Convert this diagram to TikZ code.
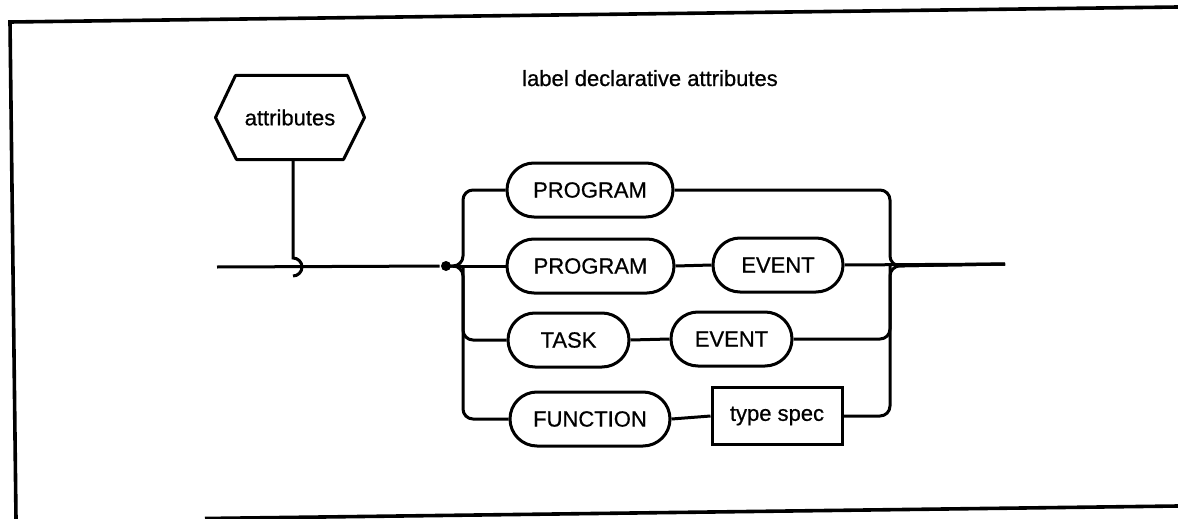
\documentclass[tikz,border=0pt]{standalone}
\usepackage{fontspec}
\setmainfont{Liberation Sans}
\newfontfamily\dfont{Liberation Sans}[FakeBold=0.7]
\begin{document}
\begin{tikzpicture}[x=1pt,y=-1pt,line width=3pt,
  txt/.style={font=\dfont\fontsize{22}{24}\selectfont},
  pill/.style={draw,txt,rounded corners=27pt,minimum height=54pt,inner sep=0pt},
  boxnode/.style={draw,txt,minimum height=57pt,inner sep=0pt},
  conn/.style={rounded corners=10pt},
  frameline/.style={line width=3.6pt}]
\useasboundingbox (0,0) rectangle (1178,519);
% frame
\draw[frameline] (16,519) -- (10,22) -- (1178,7);
\draw[frameline] (205,518.5) -- (1178,506);
% title
\node[txt,anchor=base] (title) at (650,86) {label declarative attributes};
% hexagon
\node[txt,minimum width=146pt,minimum height=81pt,inner sep=0pt] (hex) at (290,117.5) {attributes};
\draw[line join=round] (hex.west) -- ([xshift=20pt]hex.north west) -- ([xshift=-17pt]hex.north east)
  -- (hex.east) -- ([xshift=-21pt]hex.south east) -- ([xshift=21pt]hex.south west) -- cycle;
% main line
\coordinate (start) at (217,267);
\coordinate (hk) at (293,267);
\node[circle,fill,inner sep=0pt,minimum size=10pt] (dot) at (446,266) {};
\draw (start) -- (dot);
\draw (hk |- hex.south) -- ([yshift=9pt]hk) arc[start angle=90,end angle=-90,radius=9pt];
% junctions
\coordinate (L) at (463,266);
\coordinate (R) at (890,266);
\coordinate (end) at (1005,264);
% nodes
\node[pill,minimum width=166pt] (p1) at (590,190) {PROGRAM};
\node[pill,minimum width=167pt] (p2) at (590.5,266) {PROGRAM};
\node[pill,minimum width=130pt] (e2) at (778,265) {EVENT};
\node[pill,minimum width=121pt] (t3) at (568.5,340) {TASK};
\node[pill,minimum width=121pt] (e3) at (731.5,339) {EVENT};
\node[pill,minimum width=160pt] (fn) at (590,419) {FUNCTION};
\node[boxnode,minimum width=130pt] (ts) at (777,416) {type spec};
% left branches
\draw[conn] (dot.center) -- (L) |- (p1.west);
\draw[conn] (dot.center) -- (L) |- (fn.west);
\draw[conn] (L) |- (t3.west);
\draw (dot) -- (p2.west);
% inner connectors
\draw (p2.east) -- (e2.west);
\draw (t3.east) -- (e3.west);
\draw (fn.east) -- (ts.west);
% right branches
\draw[conn] (p1.east) -| (R) -- (end);
\draw[conn] (ts.east) -| (R) -- (end);
\draw[conn] (e3.east) -| (R);
\draw (e2.east) -- (end);
\end{tikzpicture}
\end{document}
